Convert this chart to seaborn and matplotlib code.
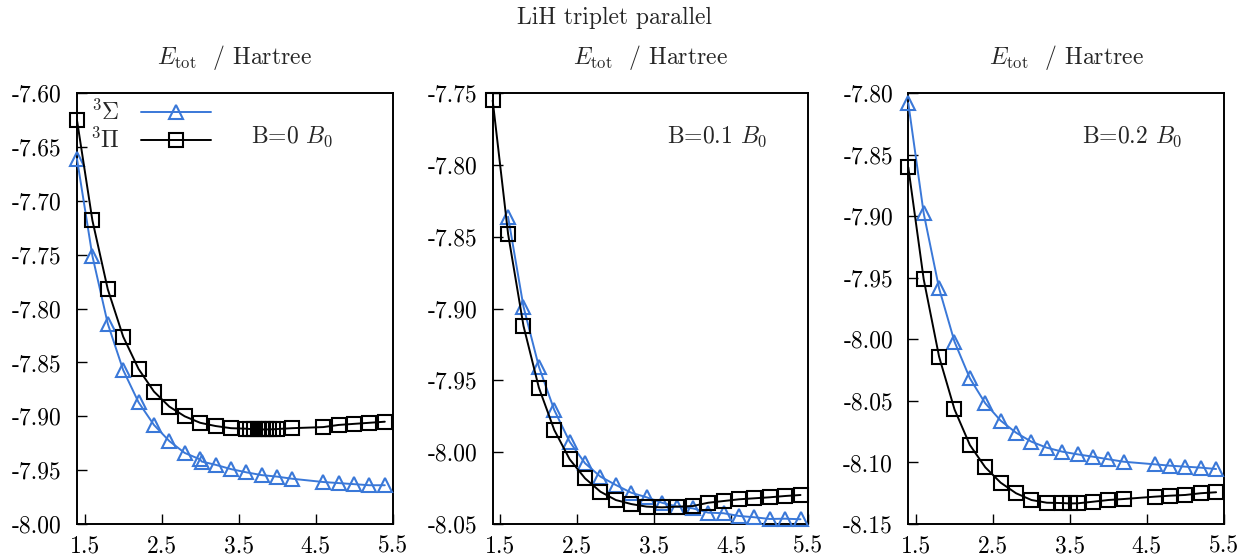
import numpy as np
import pandas as pd
import matplotlib
matplotlib.use("Agg")
import matplotlib.pyplot as plt
import seaborn as sns

# ---------------- data ----------------
x_ticks = [1.5, 2.5, 3.5, 4.5, 5.5]
panel_labels = ["B=0 $B_0$", "B=0.1 $B_0$", "B=0.2 $B_0$"]
state_labels = [r"$^3\Sigma$", r"$^3\Pi$"]

# B = 0
b0_sigma_x = [1.4, 1.6, 1.8, 2.0, 2.2, 2.4, 2.6, 2.8, 3.0, 3.02, 3.2, 3.4, 3.6, 3.8, 4.0, 4.2,
              4.6, 4.8, 5.0, 5.2, 5.4]
b0_sigma_y = [-7.661, -7.751, -7.814, -7.857, -7.887, -7.908, -7.923, -7.934, -7.940, -7.942,
              -7.945, -7.949, -7.952, -7.9546, -7.956, -7.958, -7.961, -7.962, -7.963, -7.964, -7.964]
b0_pi_x = [1.4, 1.6, 1.8, 2.0, 2.2, 2.4, 2.6, 2.8, 3.0, 3.2, 3.4,
           3.6, 3.65, 3.7, 3.75, 3.8, 3.85, 3.9, 3.95, 4.0,
           4.2, 4.6, 4.8, 5.0, 5.2, 5.4]
b0_pi_y = [-7.625, -7.718, -7.782, -7.826, -7.856, -7.877, -7.891, -7.900, -7.906, -7.909, -7.911,
           -7.9115, -7.9118, -7.912, -7.9121, -7.9122, -7.9122, -7.9121, -7.912, -7.9118,
           -7.911, -7.910, -7.908, -7.907, -7.906, -7.905]

# B = 0.1
b1_sigma_x = [1.6, 1.8, 2.0, 2.2, 2.4, 2.6, 2.8, 3.0, 3.2, 3.4, 3.6, 3.8, 4.0, 4.2, 4.4,
              4.6, 4.8, 5.0, 5.2, 5.4]
b1_sigma_y = [-7.836, -7.8986, -7.9404, -7.9706, -7.9927, -8.0077, -8.017, -8.0228, -8.0282,
              -8.0314, -8.0352, -8.0379, -8.0391, -8.0421, -8.0425, -8.0444, -8.0453, -8.0465,
              -8.0463, -8.0467]
b1_pi_x = [1.4, 1.6, 1.8, 2.0, 2.2, 2.4, 2.6, 2.8, 3.0, 3.2, 3.4, 3.6, 3.8, 4.0, 4.2, 4.4,
           4.6, 4.8, 5.0, 5.2, 5.4]
b1_pi_y = [-7.755, -7.848, -7.912, -7.955, -7.9845, -8.0049, -8.0182, -8.0275, -8.0333, -8.0361,
           -8.0379, -8.0384, -8.0379, -8.0375, -8.0352, -8.034, -8.0328, -8.0321, -8.0314,
           -8.0305, -8.0298]

# B = 0.2
b2_sigma_x = [1.4, 1.6, 1.8, 2.0, 2.2, 2.4, 2.6, 2.8, 3.0, 3.2, 3.4, 3.6, 3.8, 4.0, 4.2,
              4.6, 4.8, 5.0, 5.2, 5.4]
b2_sigma_y = [-7.808, -7.8975, -7.9585, -8.0018, -8.0316, -8.0519, -8.066, -8.0758, -8.0831,
              -8.088, -8.0912, -8.0934, -8.0953, -8.0974, -8.0994, -8.1015, -8.1026, -8.1034,
              -8.1042, -8.1053]
b2_pi_x = [1.4, 1.6, 1.8, 2.0, 2.2, 2.4, 2.6, 2.8, 3.0, 3.2, 3.4, 3.5, 3.6, 3.8, 4.0, 4.2,
           4.6, 4.8, 5.0, 5.2, 5.4]
b2_pi_y = [-7.8601, -7.9511, -8.014, -8.0568, -8.0858, -8.1039, -8.1164, -8.125, -8.1305,
           -8.1327, -8.1330, -8.1333, -8.1332, -8.1319, -8.1305, -8.1297, -8.1278, -8.127,
           -8.1264, -8.125, -8.1242]

y_ticks = [
    [-7.60, -7.65, -7.70, -7.75, -7.80, -7.85, -7.90, -7.95, -8.00],
    [-7.75, -7.80, -7.85, -7.90, -7.95, -8.00, -8.05],
    [-7.80, -7.85, -7.90, -7.95, -8.00, -8.05, -8.10, -8.15],
]

panels = [
    (b0_sigma_x, b0_sigma_y, b0_pi_x, b0_pi_y),
    (b1_sigma_x, b1_sigma_y, b1_pi_x, b1_pi_y),
    (b2_sigma_x, b2_sigma_y, b2_pi_x, b2_pi_y),
]

# ---------------- style ----------------
sns.set_theme(style="ticks")
plt.rcParams["font.family"] = ["cmr10", "DejaVu Serif"]
plt.rcParams["mathtext.fontset"] = "cm"
plt.rcParams["axes.unicode_minus"] = False
plt.rcParams["axes.formatter.use_mathtext"] = True

FS = 17
BLUE = "#3a78d8"
BLACK = "#000000"

fig = plt.figure(figsize=(12.47, 5.57), dpi=100)
W, H = 1247.0, 557.0
lefts = [77, 492.7, 908.3]
width_px = 315.5
top_px, bottom_px = 93.3, 524.0

for i, (sx, sy, px, py) in enumerate(panels):
    ax = fig.add_axes([lefts[i] / W, 1 - bottom_px / H, width_px / W, (bottom_px - top_px) / H])
    sns.lineplot(x=sx, y=sy, ax=ax, color=BLUE, lw=1.4, marker="^", markersize=10.5,
                 markerfacecolor="none", markeredgecolor=BLUE, markeredgewidth=1.5,
                 sort=False, estimator=None, label=state_labels[0], clip_on=False)
    sns.lineplot(x=px, y=py, ax=ax, color=BLACK, lw=1.4, marker="s", markersize=10,
                 markerfacecolor="none", markeredgecolor=BLACK, markeredgewidth=1.5,
                 sort=False, estimator=None, label=state_labels[1], clip_on=False)
    yt = y_ticks[i]
    ax.set_xlim(1.4, 5.5)
    ax.set_ylim(min(yt), max(yt))
    ax.set_xticks(x_ticks)
    ax.set_xticklabels([f"{v:.1f}" for v in x_ticks])
    ax.set_yticks(yt)
    ax.set_yticklabels([f"{v:.2f}" for v in yt])
    ax.tick_params(direction="in", length=7, width=1, labelsize=FS, colors="black")
    ax.tick_params(axis="x", pad=8)
    ax.tick_params(axis="y", pad=11)
    for s in ax.spines.values():
        s.set_linewidth(1.4)
        s.set_color("black")
        s.set_visible(True)
        s.set_zorder(0.5)
    ax.set_xlabel("")
    ax.set_ylabel("")
    ax.set_title(r"$E_{\rm tot}$  / Hartree", fontsize=FS, pad=21)
    ax.text(0.552, 0.884, panel_labels[i], transform=ax.transAxes, fontsize=FS,
            ha="left", va="baseline")
    if i == 0:
        ax.legend(loc="upper left", bbox_to_anchor=(0.04, 0.985), frameon=False,
                  markerfirst=False, fontsize=FS, handlelength=3.0, handletextpad=0.9,
                  borderpad=0.0, labelspacing=0.12, borderaxespad=0.0)
    else:
        lg = ax.get_legend()
        if lg is not None:
            lg.remove()

fig.text(614 / W, 1 - 18 / H, "LiH triplet parallel", fontsize=FS, ha="center", va="center")

fig.savefig("out.png", dpi=100)
